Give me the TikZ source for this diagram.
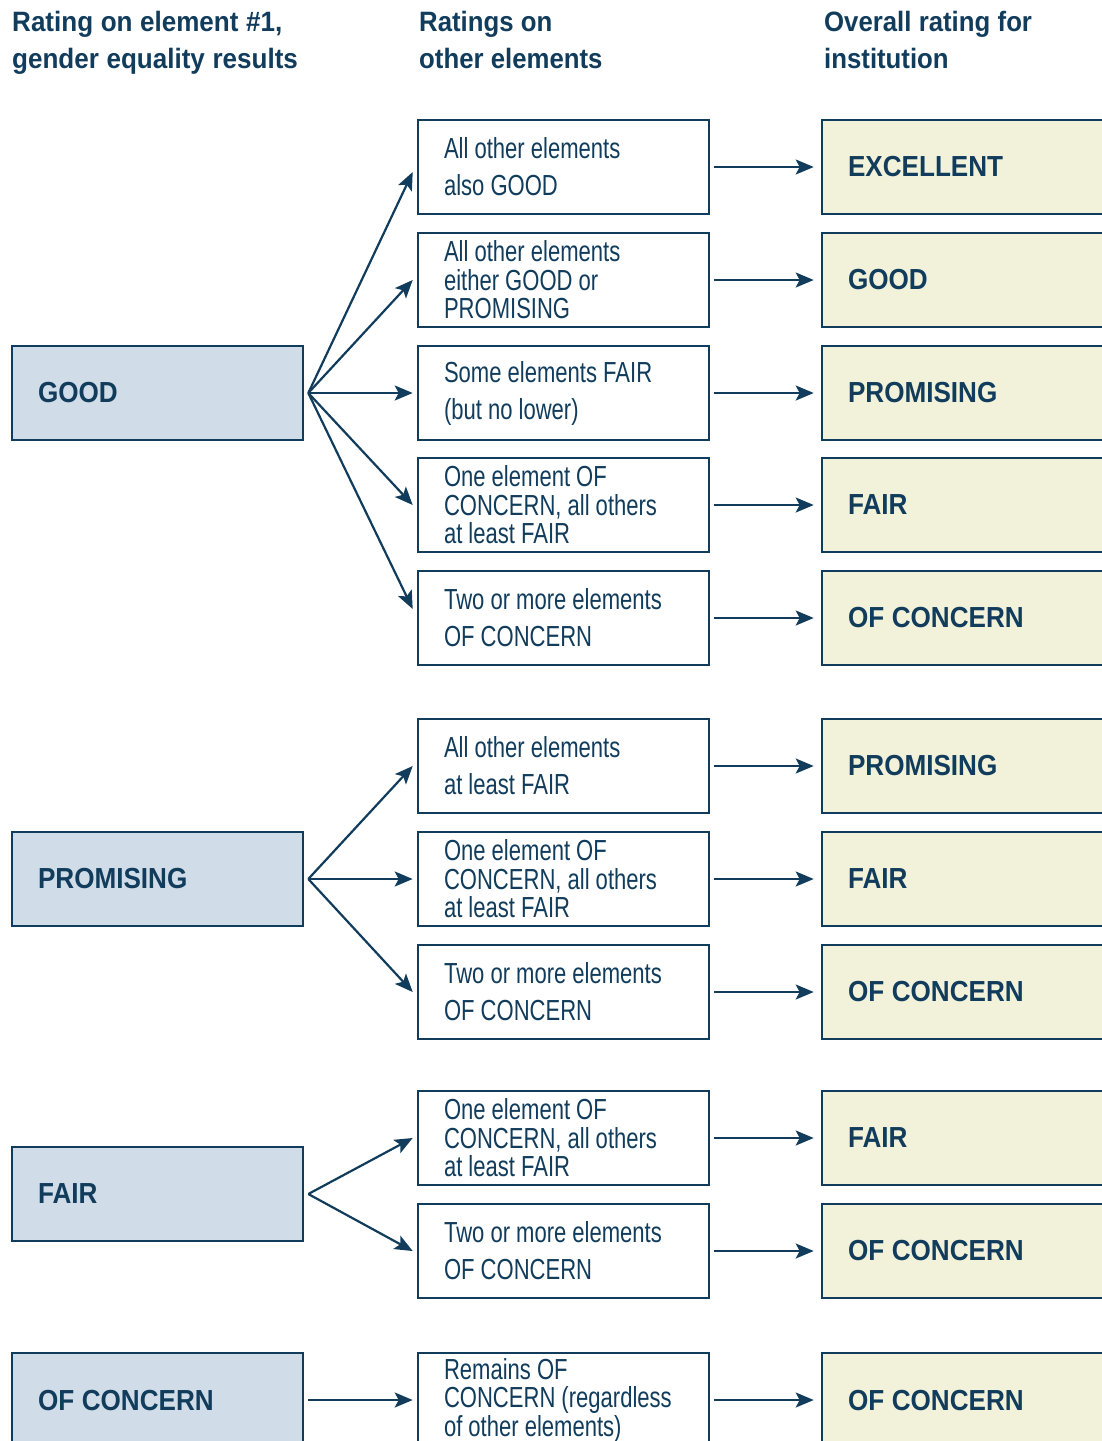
\documentclass[tikz,border=0pt]{standalone}
\usepackage{fontspec}
\setmainfont{Liberation Sans}
\newfontfamily\condfont[FakeStretch=0.76]{Liberation Sans}
\newfontfamily\labfont[FakeStretch=0.9]{Liberation Sans}
\newfontfamily\hdrfontA[FakeStretch=0.93]{Liberation Sans}
\newfontfamily\hdrfontB[FakeStretch=0.92]{Liberation Sans}
\newcommand\setsp[1]{\spaceskip=#1\relax\xspaceskip=#1\relax}
\usetikzlibrary{arrows.meta}
\definecolor{navy}{HTML}{113C5C}
\definecolor{leftfill}{HTML}{D0DCE7}
\definecolor{rightfill}{HTML}{F2F2DA}
\tikzset{
  box/.style={draw=navy, line width=2.6pt, minimum width=291pt, minimum height=94pt,
    inner xsep=26pt, inner ysep=0pt, text width=239pt, align=left, text=navy},
  leftbox/.style={box, fill=leftfill, font=\labfont\bfseries\fontsize{29}{34}\selectfont,
    execute at begin node={\setsp{0.26em}}},
  rightbox/.style={box, fill=rightfill, font=\labfont\bfseries\fontsize{29}{34}\selectfont,
    execute at begin node={\setsp{0.26em}}},
  midbox/.style={box, fill=white, font=\condfont\fontsize{29}{28.5}\selectfont,
    execute at begin node={\setsp{0.21em}}},
  midtwo/.style={box, fill=white, font=\condfont\fontsize{29}{37}\selectfont,
    execute at begin node={\setsp{0.21em}}},
  hdrA/.style={anchor=north west, inner sep=0pt, align=left, text=navy, font=\hdrfontA\bfseries\fontsize{28}{37}\selectfont,
    execute at begin node={\setsp{0.27em}}},
  hdrB/.style={anchor=north west, inner sep=0pt, align=left, text=navy, font=\hdrfontB\bfseries\fontsize{28}{37}\selectfont,
    execute at begin node={\setsp{0.26em}}},
  arr/.style={draw=navy, line width=2.2pt, -{Stealth[length=18pt,width=15pt,inset=4pt]}}
}
\begin{document}
\begin{tikzpicture}[x=1pt,y=-1pt]
\useasboundingbox (0,0) rectangle (1102,1441);
\clip (0,0) rectangle (1102,1441);
% headers
\node[hdrA] (h1) at (12,11) {Rating on element \#1,\\gender equality results};
\node[hdrB] (h2) at (419,11) {Ratings on\\other elements};
\node[hdrB] (h3) at (824,11) {Overall rating for\\institution};
% left boxes
\node[leftbox] (lg) at (157.5,393) {GOOD};
\node[leftbox] (lp) at (157.5,879) {PROMISING};
\node[leftbox] (lf) at (157.5,1194) {FAIR};
\node[leftbox] (lc) at (157.5,1400) {OF CONCERN};
% middle boxes
\node[midtwo] (m1) at (563.5,167) {All other elements\\also GOOD};
\node[midbox] (m2) at (563.5,280) {All other elements\\either GOOD or\\PROMISING};
\node[midtwo] (m3) at (563.5,393) {Some elements FAIR\\(but no lower)};
\node[midbox] (m4) at (563.5,505) {One element OF\\CONCERN, all others\\at least FAIR};
\node[midtwo] (m5) at (563.5,618) {Two or more elements\\OF CONCERN};
\node[midtwo] (m6) at (563.5,766) {All other elements\\at least FAIR};
\node[midbox] (m7) at (563.5,879) {One element OF\\CONCERN, all others\\at least FAIR};
\node[midtwo] (m8) at (563.5,992) {Two or more elements\\OF CONCERN};
\node[midbox] (m9) at (563.5,1138) {One element OF\\CONCERN, all others\\at least FAIR};
\node[midtwo] (m10) at (563.5,1251) {Two or more elements\\OF CONCERN};
\node[midbox] (m11) at (563.5,1400) {Remains OF\\CONCERN (regardless\\of other elements)};
% right boxes
\node[rightbox] (r1) at (967.5,167) {EXCELLENT};
\node[rightbox] (r2) at (967.5,280) {GOOD};
\node[rightbox] (r3) at (967.5,393) {PROMISING};
\node[rightbox] (r4) at (967.5,505) {FAIR};
\node[rightbox] (r5) at (967.5,618) {OF CONCERN};
\node[rightbox] (r6) at (967.5,766) {PROMISING};
\node[rightbox] (r7) at (967.5,879) {FAIR};
\node[rightbox] (r8) at (967.5,992) {OF CONCERN};
\node[rightbox] (r9) at (967.5,1138) {FAIR};
\node[rightbox] (r10) at (967.5,1251) {OF CONCERN};
\node[rightbox] (r11) at (967.5,1400) {OF CONCERN};
% left arrows
\draw[arr] ([xshift=4pt]lg.east) -- ([xshift=-4pt,yshift=-5pt]m1.west);
\draw[arr] ([xshift=4pt]lg.east) -- ([xshift=-4pt]m2.west);
\draw[arr] ([xshift=4pt]lg.east) -- ([xshift=-4pt]m3.west);
\draw[arr] ([xshift=4pt]lg.east) -- ([xshift=-4pt]m4.west);
\draw[arr] ([xshift=4pt]lg.east) -- ([xshift=-4pt,yshift=9pt]m5.west);
\draw[arr] ([xshift=4pt]lp.east) -- ([xshift=-4pt]m6.west);
\draw[arr] ([xshift=4pt]lp.east) -- ([xshift=-4pt]m7.west);
\draw[arr] ([xshift=4pt]lp.east) -- ([xshift=-4pt]m8.west);
\draw[arr] ([xshift=4pt]lf.east) -- ([xshift=-4pt]m9.west);
\draw[arr] ([xshift=4pt]lf.east) -- ([xshift=-4pt]m10.west);
\draw[arr] ([xshift=4pt]lc.east) -- ([xshift=-4pt]m11.west);
% right arrows
\foreach \i in {1,...,11}{
  \draw[arr] ([xshift=4pt]m\i.east) -- ([xshift=-7pt]r\i.west);
}
\end{tikzpicture}
\end{document}
